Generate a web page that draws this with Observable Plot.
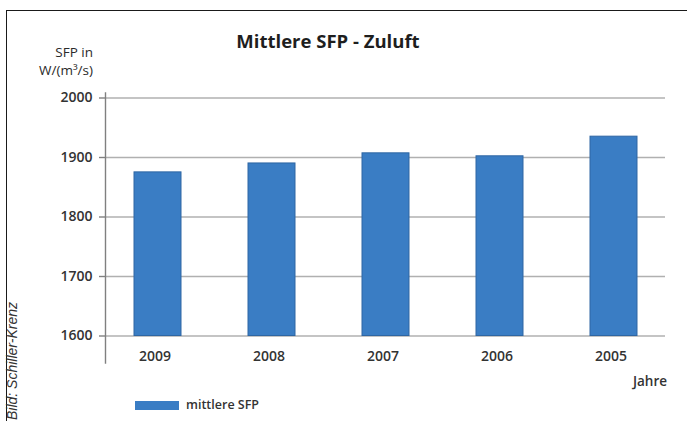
<!DOCTYPE html>
<html>
<head>
<meta charset="utf-8">
<script src="https://cdn.jsdelivr.net/npm/d3@7"></script>
<script src="https://cdn.jsdelivr.net/npm/@observablehq/plot@0.6"></script>
<style>
  html, body { margin: 0; padding: 0; background: #fff; }
  #wrap { position: relative; width: 687px; height: 421px; overflow: hidden; background: #fff; font-family: "Open Sans", sans-serif; color: #2a2a2a; }
  #wrap svg { position: absolute; left: 0; top: 0; }
  .abs { position: absolute; white-space: nowrap; }
</style>
</head>
<body>
<div id="wrap">
  <div class="abs" style="left:6px; top:10px; width:700px; height:430px; border-top:1.5px solid #1a1a1a; border-left:1.5px solid #1a1a1a;"></div>
  <div id="title" class="abs" style="left:0; width:656px; top:29px; text-align:center; font-weight:700; font-size:18.5px; line-height:24px; color:#1e1e1e;"></div>
  <div id="unit" class="abs" style="right:594px; top:44px; text-align:right; font-size:13.5px; line-height:17.5px;"></div>
  <div id="xlabel" class="abs" style="right:20px; top:371px; text-align:right; font-size:13.5px; line-height:20px; font-weight:600; color:#333;"></div>
  <div id="legend" class="abs" style="left:135px; top:395px; font-size:12.5px; line-height:20px; display:flex; align-items:center; font-weight:600; color:#333;">
    <span id="swatch" style="display:inline-block; width:44px; height:9px; margin-right:7px;"></span><span id="legtext"></span>
  </div>
  <div id="credit" class="abs" style="left:4px; top:420px; transform-origin:0 0; transform:rotate(-90deg); font-family:'Liberation Sans Narrow','Liberation Sans',sans-serif; font-style:italic; font-size:14px; line-height:17px; color:#333;"></div>
</div>
<script>
const titleText = "Mittlere SFP - Zuluft";
const unitLines = ["SFP in", "W/(m³/s)"];
const xAxisLabel = "Jahre";
const seriesName = "mittlere SFP";
const creditText = "Bild: Schiller-Krenz";

const years = ["2009", "2008", "2007", "2006", "2005"];
const values = [1875, 1890, 1907, 1902, 1935];
const yTicks = [1600, 1700, 1800, 1900, 2000];
const yMin = 1600, yMax = 2000;

const barColor = "#3a7dc4";
const barEdge = "#2e66a3";

const data = years.map((y, i) => ({year: y, value: values[i]}));

document.getElementById("title").textContent = titleText;
document.getElementById("unit").innerHTML = unitLines.join("<br>");
document.getElementById("xlabel").textContent = xAxisLabel;
document.getElementById("legtext").textContent = seriesName;
document.getElementById("swatch").style.background = barColor;
document.getElementById("credit").textContent = creditText;

const chart = Plot.plot({
  width: 687,
  height: 421,
  marginLeft: 105,
  marginRight: 22,
  marginTop: 97.5,
  marginBottom: 85.5,
  style: {fontFamily: "Open Sans, sans-serif", fontSize: "14px", fontWeight: 600, color: "#333", background: "transparent"},
  x: {domain: years, paddingInner: 0.59, paddingOuter: 0.24, label: null},
  y: {domain: [yMin, yMax], label: null},
  marks: [
    Plot.gridY(yTicks, {stroke: "#b0b0b0", strokeOpacity: 1, strokeWidth: 1.4}),
    Plot.barY(data, {x: "year", y1: () => yMin, y2: "value", fill: barColor, stroke: barEdge, strokeWidth: 1}),
    Plot.frame({anchor: "left", insetTop: -5, insetBottom: -27, stroke: "#808080", strokeWidth: 1.4}),
    Plot.axisY(yTicks, {tickSize: 6, tickPadding: 7, tickFormat: d => String(d), stroke: "#808080", strokeWidth: 1.4, fill: "#333", label: null}),
    Plot.axisX({tickSize: 0, tickPadding: 15, dx: -3, fill: "#333", label: null})
  ]
});
document.getElementById("wrap").appendChild(chart);
</script>
</body>
</html>
